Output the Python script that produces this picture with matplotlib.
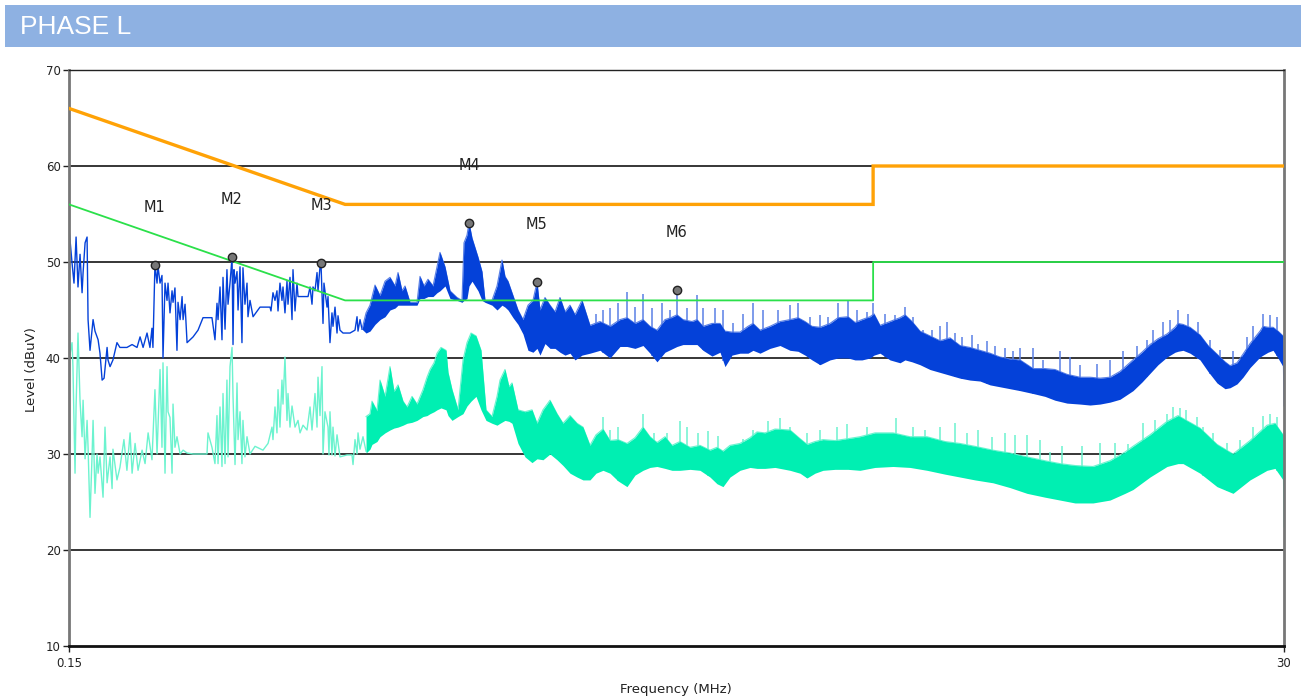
import numpy as np
import matplotlib
matplotlib.use("Agg")
import matplotlib.pyplot as plt
from matplotlib.ticker import FixedLocator, NullLocator, FixedFormatter

# ---------------- data ----------------
title_text = "PHASE L"
x_label = "Frequency (MHz)"
y_label = "Level (dBuV)"
x_ticks = [0.15, 30]
x_tick_labels = ["0.15", "30"]
y_ticks = [10, 20, 30, 40, 50, 60, 70]

# limit lines (MHz, dBuV)
qp_limit_f = [0.15, 0.5, 5.0, 5.0, 30.0]
qp_limit_v = [66, 56, 56, 60, 60]
av_limit_f = [0.15, 0.5, 5.0, 5.0, 30.0]
av_limit_v = [56, 46, 46, 50, 50]

# peak trace, sparse low-frequency part
peak_line_f = [0.1500, 0.1520, 0.1533, 0.1547, 0.1560, 0.1574, 0.1588, 0.1595, 0.1609, 0.1623,
               0.1630, 0.1644, 0.1666, 0.1680, 0.1703, 0.1717, 0.1733, 0.1748, 0.1771, 0.1778,
               0.1794, 0.1817, 0.1849, 0.1873, 0.1931, 0.1975, 0.2018, 0.2045, 0.2072, 0.2108,
               0.2135, 0.2154, 0.2163, 0.2182, 0.2202, 0.2211, 0.2231, 0.2250, 0.2260, 0.2280,
               0.2300, 0.2310, 0.2330, 0.2351, 0.2361, 0.2381, 0.2402, 0.2413, 0.2435, 0.2456,
               0.2467, 0.2488, 0.2510, 0.2543, 0.2577, 0.2633, 0.2691, 0.2798, 0.2835, 0.2860,
               0.2873, 0.2898, 0.2923, 0.2936, 0.2962, 0.2987, 0.3001, 0.3027, 0.3054, 0.3067,
               0.3080, 0.3094, 0.3121, 0.3135, 0.3162, 0.3189, 0.3203, 0.3231, 0.3260, 0.3274,
               0.3303, 0.3347, 0.3450, 0.3604, 0.3619, 0.3651, 0.3683, 0.3715, 0.3732, 0.3764,
               0.3797, 0.3814, 0.3847, 0.3881, 0.3898, 0.3932, 0.3967, 0.3984, 0.4019, 0.4054,
               0.4072, 0.4254, 0.4291, 0.4328, 0.4347, 0.4385, 0.4424, 0.4443, 0.4482, 0.4501,
               0.4541, 0.4560, 0.4621, 0.4641, 0.4681, 0.4722, 0.4743, 0.4785, 0.4827, 0.4848,
               0.4890, 0.4955, 0.5108, 0.5221, 0.5267, 0.5290, 0.5336, 0.5383]
peak_line_v = [53.5, 49.9, 47.8, 52.6, 47.4, 50.8, 46.8, 48.9, 52.0, 52.6,
               44.0, 40.8, 44.0, 42.8, 41.9, 40.5, 37.7, 37.9, 41.1, 39.8,
               39.1, 39.8, 41.6, 41.1, 41.1, 41.4, 41.1, 42.2, 41.1, 42.6,
               41.1, 43.1, 41.1, 49.7, 47.8, 49.6, 47.8, 48.6, 40.0, 47.8,
               46.0, 47.8, 44.7, 47.0, 45.8, 47.3, 40.8, 45.8, 44.0, 46.4,
               44.0, 45.6, 41.6, 41.9, 42.2, 42.9, 44.2, 44.2, 41.9, 45.7,
               44.0, 47.4, 41.9, 48.4, 43.0, 49.2, 45.6, 47.8, 50.5, 41.4,
               49.2, 47.8, 49.0, 45.0, 49.5, 41.6, 49.4, 45.6, 47.8, 44.3,
               46.0, 44.3, 45.3, 45.3, 44.9, 46.8, 46.0, 47.0, 44.9, 47.8,
               46.0, 47.4, 44.7, 48.0, 45.6, 48.4, 44.0, 49.2, 44.9, 47.8,
               46.4, 46.4, 47.4, 45.6, 47.4, 47.0, 48.9, 47.0, 49.5, 49.9,
               43.6, 47.8, 45.3, 46.4, 41.6, 44.7, 43.3, 45.3, 42.6, 44.4,
               42.9, 42.6, 42.6, 42.9, 44.3, 42.8, 44.0, 43.0]

# peak trace, dense part (body of the sweep)
peak_band_f = [0.5383, 0.5478, 0.5573, 0.5696, 0.5822, 0.5951, 0.6081, 0.6216, 0.6298, 0.6408,
               0.6493, 0.6636, 0.6842, 0.6931, 0.7053, 0.7177, 0.7336, 0.7465, 0.7563, 0.7730,
               0.7900, 0.8145, 0.8324, 0.8397, 0.8508, 0.8583, 0.8696, 0.8811, 0.8927, 0.9083,
               0.9203, 0.9488, 0.9698, 0.9911, 1.0041, 1.0174, 1.0398, 1.0627, 1.0861, 1.1100,
               1.1345, 1.1545, 1.1697, 1.1955, 1.2218, 1.2488, 1.2763, 1.3044, 1.3331, 1.3625,
               1.4048, 1.4546, 1.5194, 1.5871, 1.6579, 1.7093, 1.7700, 1.8328, 1.8896, 1.9482,
               2.0174, 2.0709, 2.1258, 2.1821, 2.2695, 2.3196, 2.3810, 2.4763, 2.5643, 2.6208,
               2.7020, 2.7979, 2.8973, 2.9611, 3.0529, 3.1890, 3.3311, 3.4796, 3.6033, 3.7149,
               3.8300, 3.9660, 4.1427, 4.2899, 4.4812, 4.6200, 4.7631, 4.9323, 5.0191, 5.1521,
               5.3817, 5.6216, 5.7455, 5.9236, 6.1339, 6.4074, 6.6929, 6.9912, 7.3029, 7.6284,
               7.9685, 8.3236, 8.6946, 9.0822, 9.4871, 10.040, 10.580, 11.052, 11.645, 12.325,
               12.874, 13.448, 14.047, 14.673, 15.530, 16.151, 16.724, 17.318, 18.012, 18.651,
               18.897, 19.313, 19.912, 20.798, 21.537, 22.399, 23.194, 23.706, 24.441, 25.089,
               25.867, 27.020, 27.375, 27.979, 28.596, 29.226, 29.870, 30.0]
peak_band_hi = [43.0, 44.7, 45.5, 47.6, 46.5, 48.0, 48.4, 47.5, 48.9, 47.0,
                47.5, 45.8, 45.8, 48.5, 47.5, 48.2, 47.5, 49.5, 51.0, 49.5,
                47.0, 46.3, 46.0, 52.0, 52.8, 54.1, 52.5, 51.5, 50.5, 49.0,
                46.0, 46.0, 47.5, 50.2, 48.5, 48.0, 46.5, 45.0, 44.0, 45.5,
                46.0, 47.9, 45.0, 46.3, 45.5, 44.8, 46.3, 44.8, 45.5, 44.5,
                46.0, 43.4, 43.8, 43.3, 44.0, 44.2, 43.6, 44.0, 43.3, 42.9,
                44.0, 44.2, 44.5, 44.0, 43.8, 44.0, 43.3, 43.6, 43.6, 42.8,
                42.7, 42.7, 43.3, 43.6, 42.9, 43.3, 43.8, 44.0, 44.2, 43.8,
                43.3, 43.2, 43.6, 44.2, 44.3, 43.7, 44.0, 44.3, 44.6, 43.4,
                43.8, 44.2, 44.5, 43.8, 42.8, 42.3, 41.8, 42.1, 41.3, 41.1,
                40.8, 40.5, 40.1, 39.9, 39.8, 38.9, 38.9, 38.8, 38.3, 38.0,
                38.0, 37.9, 38.0, 38.6, 39.8, 40.6, 41.4, 42.0, 42.5, 43.2,
                43.6, 43.5, 43.2, 42.4, 41.3, 40.4, 39.6, 39.2, 39.5, 40.4,
                41.5, 42.8, 43.3, 43.2, 43.2, 42.8, 42.3, 35.0]
peak_band_lo = [43.0, 42.6, 42.8, 43.5, 44.0, 44.3, 45.0, 45.2, 45.5, 45.5,
                45.5, 45.5, 45.5, 46.2, 46.2, 46.4, 46.4, 46.8, 47.0, 47.5,
                46.2, 46.0, 45.8, 46.0, 46.2, 47.5, 48.0, 47.5, 47.0, 46.0,
                45.8, 45.5, 45.0, 45.5, 45.3, 45.0, 44.2, 43.5, 42.5, 40.8,
                40.6, 41.0, 40.3, 41.5, 41.0, 41.0, 40.6, 40.3, 40.5, 39.8,
                40.3, 40.5, 40.8, 40.0, 41.2, 41.2, 41.0, 41.3, 40.5, 39.6,
                40.6, 40.9, 41.2, 41.4, 41.4, 41.4, 40.8, 40.2, 40.6, 39.1,
                40.3, 40.5, 40.5, 40.8, 40.5, 41.0, 41.3, 40.8, 40.7, 40.3,
                39.8, 39.3, 39.8, 40.0, 40.0, 39.8, 39.8, 40.0, 40.3, 40.5,
                39.8, 39.5, 39.8, 39.6, 39.3, 38.8, 38.5, 38.2, 37.9, 37.7,
                37.6, 37.2, 37.0, 36.8, 36.6, 36.3, 36.0, 35.6, 35.3, 35.2,
                35.1, 35.2, 35.4, 35.7, 36.6, 37.5, 38.4, 39.3, 40.1, 40.6,
                40.7, 40.8, 40.5, 39.8, 38.6, 37.4, 36.8, 36.9, 37.3, 38.0,
                39.0, 40.1, 40.3, 40.6, 40.8, 40.0, 39.1, 35.0]

# peak trace, isolated spikes above the body
peak_spike_f = [1.4932, 1.5394, 1.5871, 1.6435, 1.7093, 1.7700, 1.8328, 1.9062, 1.9912, 2.0619,
                2.1258, 2.2206, 2.3196, 2.3810, 2.5089, 2.5980, 2.7138, 2.8347, 2.9611, 3.0931,
                3.3023, 3.4796, 3.6033, 3.7967, 3.9660, 4.1068, 4.2899, 4.4812, 4.6605, 4.8682,
                4.9972, 5.2657, 5.5004, 5.7455, 5.9495, 6.2147, 6.4635, 6.6929, 6.9005, 7.1454,
                7.3669, 7.6952, 7.8994, 8.2156, 8.5072, 8.8864, 9.2019, 9.4871, 10.040, 10.488,
                11.295, 11.798, 12.325, 13.273, 14.047, 14.866, 15.803, 16.507, 16.944, 17.700,
                18.248, 18.897, 19.739, 20.619, 21.726, 22.694, 24.019, 25.531, 26.207, 27.375,
                28.224, 29.099]
peak_spike_v = [44.6, 45.0, 45.2, 45.7, 46.9, 45.3, 46.7, 45.2, 45.7, 45.0,
                47.1, 45.2, 46.6, 45.2, 45.2, 45.0, 43.6, 44.6, 45.7, 45.0,
                45.0, 45.5, 45.7, 44.3, 44.5, 44.3, 45.7, 45.9, 45.0, 44.8,
                45.7, 44.6, 44.5, 45.3, 44.3, 42.9, 42.9, 43.3, 43.8, 42.6,
                42.2, 42.4, 41.5, 41.8, 41.2, 41.0, 40.7, 41.0, 41.0, 39.8,
                40.7, 40.1, 39.3, 39.4, 39.8, 40.7, 41.2, 41.9, 42.9, 43.8,
                44.0, 45.0, 44.6, 43.8, 41.9, 40.8, 40.7, 42.2, 43.3, 44.6,
                44.5, 44.3]

# average trace, sparse low-frequency part
avg_line_f = [0.1500, 0.1520, 0.1526, 0.1540, 0.1547, 0.1560, 0.1574, 0.1588, 0.1595, 0.1609,
              0.1623, 0.1630, 0.1644, 0.1659, 0.1666, 0.1680, 0.1695, 0.1703, 0.1717, 0.1740,
              0.1755, 0.1771, 0.1794, 0.1810, 0.1817, 0.1849, 0.1873, 0.1906, 0.1931, 0.1958,
              0.1975, 0.2001, 0.2027, 0.2063, 0.2090, 0.2118, 0.2154, 0.2182, 0.2202, 0.2231,
              0.2250, 0.2260, 0.2280, 0.2300, 0.2310, 0.2330, 0.2351, 0.2361, 0.2381, 0.2402,
              0.2435, 0.2467, 0.2510, 0.2577, 0.2738, 0.2750, 0.2798, 0.2835, 0.2860, 0.2873,
              0.2898, 0.2923, 0.2936, 0.2962, 0.2987, 0.3001, 0.3027, 0.3054, 0.3067, 0.3094,
              0.3121, 0.3135, 0.3162, 0.3189, 0.3203, 0.3231, 0.3260, 0.3303, 0.3376, 0.3495,
              0.3573, 0.3635, 0.3651, 0.3683, 0.3715, 0.3732, 0.3764, 0.3797, 0.3814, 0.3847,
              0.3881, 0.3898, 0.3932, 0.3967, 0.4019, 0.4072, 0.4108, 0.4162, 0.4235, 0.4291,
              0.4328, 0.4385, 0.4424, 0.4443, 0.4482, 0.4521, 0.4541, 0.4580, 0.4641, 0.4661,
              0.4681, 0.4722, 0.4743, 0.4785, 0.4827, 0.4890, 0.5042, 0.5153, 0.5176, 0.5221,
              0.5267, 0.5290, 0.5336, 0.5406, 0.5478]
avg_line_v = [39.8, 41.6, 39.1, 28.0, 35.0, 42.6, 35.5, 31.8, 35.6, 29.5,
              33.5, 30.7, 23.4, 30.0, 33.5, 25.9, 30.0, 28.0, 29.7, 25.5,
              32.8, 27.0, 29.7, 26.4, 30.5, 27.3, 28.6, 31.5, 28.3, 32.2,
              28.0, 31.1, 28.3, 30.4, 29.0, 32.2, 29.4, 36.7, 30.0, 38.8,
              30.7, 39.5, 28.0, 39.1, 34.4, 33.8, 28.0, 35.2, 30.7, 31.8,
              30.0, 30.4, 30.1, 30.0, 30.0, 32.2, 30.7, 29.0, 34.0, 29.0,
              34.9, 28.7, 36.3, 29.0, 37.7, 29.7, 39.1, 41.1, 36.0, 28.9,
              37.4, 31.5, 34.4, 29.0, 33.5, 29.7, 31.8, 30.0, 30.8, 30.4,
              31.1, 32.8, 31.5, 34.9, 32.2, 36.7, 32.8, 37.7, 35.2, 40.1,
              33.5, 36.3, 32.8, 35.0, 32.8, 33.5, 32.2, 33.0, 32.5, 34.9,
              32.5, 36.3, 32.8, 38.0, 34.0, 39.1, 30.0, 34.4, 32.8, 29.9,
              34.4, 29.9, 32.8, 29.8, 32.0, 29.7, 29.9, 29.9, 28.9, 31.5,
              30.0, 32.2, 30.5, 31.8, 30.3]

# average trace, dense part (body of the sweep)
avg_band_f = [0.5478, 0.5573, 0.5622, 0.5746, 0.5822, 0.5951, 0.6081, 0.6189, 0.6298, 0.6436,
              0.6550, 0.6694, 0.6842, 0.7022, 0.7146, 0.7241, 0.7368, 0.7465, 0.7596, 0.7764,
              0.7832, 0.7970, 0.8181, 0.8361, 0.8508, 0.8658, 0.8849, 0.9044, 0.9243, 0.9488,
              0.9698, 0.9825, 1.0041, 1.0218, 1.0353, 1.0627, 1.0956, 1.1296, 1.1545, 1.1851,
              1.2218, 1.2597, 1.2931, 1.3331, 1.3744, 1.4109, 1.4546, 1.4932, 1.5394, 1.5871,
              1.6435, 1.7093, 1.7700, 1.8328, 1.8896, 1.9482, 2.0174, 2.0799, 2.1538, 2.2498,
              2.3500, 2.4548, 2.5309, 2.5980, 2.6786, 2.7979, 2.9226, 3.0133, 3.1202, 3.2593,
              3.4796, 3.6347, 3.7474, 3.8805, 4.0182, 4.2341, 4.4812, 4.7217, 5.0410, 5.4526,
              5.8722, 6.3241, 6.8405, 7.3029, 7.7966, 8.4333, 9.0822, 9.7813, 10.580, 11.295,
              12.059, 13.044, 14.047, 14.996, 15.530, 16.724, 18.012, 18.897, 19.313, 20.798,
              22.399, 24.019, 25.867, 27.858, 28.846, 29.870, 30.0]
avg_band_hi = [33.9, 34.2, 35.5, 34.5, 37.7, 36.0, 39.1, 36.5, 37.2, 35.5,
               34.9, 36.0, 35.2, 36.7, 38.0, 38.8, 39.5, 40.5, 41.1, 40.8,
               38.5, 36.7, 34.6, 39.8, 41.6, 42.6, 42.3, 40.8, 34.6, 33.9,
               36.0, 37.7, 38.8, 37.0, 37.4, 34.6, 34.4, 34.6, 33.2, 34.6,
               35.6, 34.2, 33.2, 34.0, 33.2, 32.8, 30.9, 32.0, 32.6, 31.4,
               31.5, 31.1, 31.7, 32.8, 31.8, 31.2, 31.8, 30.9, 31.3, 30.7,
               30.9, 30.4, 30.7, 30.3, 30.9, 31.1, 31.7, 32.3, 32.2, 32.6,
               32.5, 31.6, 31.0, 31.3, 31.5, 31.4, 31.6, 31.8, 32.2, 32.2,
               31.8, 31.8, 31.3, 31.1, 30.8, 30.4, 30.1, 29.7, 29.3, 29.0,
               28.8, 28.7, 29.3, 30.2, 30.8, 32.0, 33.4, 34.0, 33.7, 32.7,
               31.0, 30.0, 31.4, 33.0, 33.2, 32.0, 22.4]
avg_band_lo = [30.1, 30.5, 31.0, 31.3, 31.8, 32.2, 32.5, 32.7, 32.8, 33.0,
               33.2, 33.3, 33.5, 33.9, 34.0, 34.2, 34.4, 34.6, 34.8, 34.6,
               34.0, 33.5, 33.9, 34.2, 35.0, 35.5, 36.0, 34.6, 33.5, 33.2,
               33.0, 33.2, 33.5, 33.4, 33.2, 31.1, 29.7, 29.1, 29.5, 29.4,
               30.0, 29.4, 28.8, 28.0, 27.6, 27.3, 27.3, 28.0, 28.3, 28.0,
               27.2, 26.6, 27.8, 28.3, 28.6, 28.7, 28.5, 28.3, 28.3, 28.4,
               28.3, 27.6, 26.9, 26.6, 27.6, 28.3, 28.6, 28.5, 28.5, 28.6,
               28.3, 28.0, 27.5, 28.0, 28.3, 28.4, 28.4, 28.3, 28.6, 28.7,
               28.6, 28.3, 27.9, 27.6, 27.3, 27.0, 26.5, 25.9, 25.5, 25.2,
               24.9, 24.9, 25.2, 25.9, 26.3, 27.6, 28.7, 29.0, 29.0, 28.0,
               26.6, 25.9, 27.3, 28.3, 28.5, 27.3, 22.4]

# average trace, isolated spikes above the body
avg_spike_f = [1.5394, 1.5871, 1.6435, 1.8328, 1.9229, 2.0351, 2.1538, 2.2206, 2.3296, 2.4335,
               2.5420, 2.8347, 2.9611, 3.1613, 3.3311, 3.4796, 3.7474, 3.9660, 4.2712, 4.4616,
               4.8682, 5.5245, 5.9495, 6.2692, 6.6929, 7.1454, 7.5294, 7.8994, 8.3965, 8.8864,
               9.2825, 9.7813, 10.351, 10.813, 11.394, 12.433, 13.448, 14.357, 15.195, 16.222,
               17.093, 18.012, 18.489, 19.062, 19.568, 20.529, 21.072, 22.012, 23.398, 24.763,
               26.207, 27.375, 28.224, 29.099]
avg_spike_v = [33.9, 32.5, 32.8, 34.2, 32.2, 32.2, 33.4, 32.8, 32.2, 32.4,
               31.9, 31.6, 32.5, 33.4, 33.7, 32.8, 32.2, 32.5, 32.8, 33.1,
               32.8, 33.7, 32.8, 32.5, 32.8, 33.2, 32.2, 32.5, 31.8, 32.2,
               32.0, 32.0, 31.5, 30.2, 30.8, 30.8, 31.1, 31.1, 31.0, 33.2,
               33.5, 34.2, 34.9, 34.8, 34.6, 33.9, 32.8, 32.2, 31.1, 31.5,
               32.8, 34.0, 34.2, 33.9]

# markers
marker_names = ["M1", "M2", "M3", "M4", "M5", "M6"]
marker_f = [0.2182, 0.3054, 0.4501, 0.8583, 1.1545, 2.1258]
marker_v = [49.7, 50.5, 49.9, 54.1, 47.9, 47.1]

# ---------------- style ----------------
W, H = 1301, 699
PEAK_C = "#0441D9"
PEAK_LIGHT = "#5a80e6"
AVG_C = "#00EFB2"
AVG_LIGHT = "#6cf3cf"
QP_C = "#FFA206"
AV_C = "#2BE04A"
HEADER_C = "#8EB1E2"

fig = plt.figure(figsize=(W / 100, H / 100), dpi=100)
fig.patch.set_facecolor("white")

# header bar
fig.patches.append(plt.Rectangle((5 / W, 1 - 47 / H), 1296 / W, 42 / H,
                                 transform=fig.transFigure, facecolor=HEADER_C,
                                 edgecolor="none", zorder=0))
fig.text(20 / W, 1 - 27 / H, title_text, color="white", fontsize=19,
         family="Liberation Sans", va="center", ha="left")

ax = fig.add_axes([69 / W, 53 / H, 1215 / W, 576 / H])
ax.set_xscale("log")
ax.set_xlim(0.15, 30)
ax.set_ylim(10, 70)

# grid
for y in y_ticks[1:-1]:
    ax.axhline(y, color="black", lw=1.1, zorder=0.5)

# average trace
ax.plot(avg_line_f, avg_line_v, color=AVG_LIGHT, lw=1.0, zorder=1.5)
avg_spike_base = np.interp(avg_spike_f, avg_band_f, avg_band_lo)
ax.vlines(avg_spike_f, avg_spike_base, avg_spike_v, color=AVG_LIGHT, lw=1.1, zorder=1.52)
ax.fill_between(avg_band_f, avg_band_lo, avg_band_hi, color=AVG_C, lw=0, zorder=1.6)
ax.plot(avg_band_f, avg_band_hi, color=AVG_LIGHT, lw=0.8, zorder=1.55)

# peak trace
ax.plot(peak_line_f, peak_line_v, color=PEAK_C, lw=1.0, zorder=2.0)
peak_spike_base = np.interp(peak_spike_f, peak_band_f, peak_band_lo)
ax.vlines(peak_spike_f, peak_spike_base, peak_spike_v, color=PEAK_LIGHT, lw=1.1, zorder=2.02)
ax.fill_between(peak_band_f, peak_band_lo, peak_band_hi, color=PEAK_C, lw=0, zorder=2.1)
ax.plot(peak_band_f, peak_band_hi, color=PEAK_LIGHT, lw=0.8, zorder=2.05)

# limits
ax.plot(qp_limit_f, qp_limit_v, color=QP_C, lw=2.4, zorder=3, solid_joinstyle="miter")
ax.plot(av_limit_f, av_limit_v, color=AV_C, lw=1.3, zorder=3)

# markers
ax.plot(marker_f, marker_v, linestyle="none", marker="o", markersize=6,
        markerfacecolor="#777777", markeredgecolor="#222222", markeredgewidth=1.0, zorder=4)
for name, f, v in zip(marker_names, marker_f, marker_v):
    ax.text(f, v + 6, name, fontsize=10.5, color="#222222", ha="center", va="center",
            family="DejaVu Sans", zorder=5)

# axes styling
for side in ["left", "right"]:
    ax.spines[side].set_color("#777777")
    ax.spines[side].set_linewidth(2)
ax.spines["top"].set_color("#222222")
ax.spines["top"].set_linewidth(1)
ax.spines["bottom"].set_color("#111111")
ax.spines["bottom"].set_linewidth(2)

ax.xaxis.set_major_locator(FixedLocator(x_ticks))
ax.xaxis.set_major_formatter(FixedFormatter(x_tick_labels))
ax.xaxis.set_minor_locator(NullLocator())
ax.yaxis.set_major_locator(FixedLocator(y_ticks))
ax.tick_params(axis="both", labelsize=8.5, colors="#222222", length=4, width=1)
ax.tick_params(axis="x", pad=4)
ax.tick_params(axis="y", pad=2)

fig.text(32 / W, 1 - 370 / H, y_label, rotation=90, fontsize=9.5, ha="center",
         va="center", color="#222222")
fig.text(676 / W, 1 - 690 / H, x_label, fontsize=9.5, ha="center", va="center",
         color="#222222")

fig.savefig("out.png", dpi=100)
